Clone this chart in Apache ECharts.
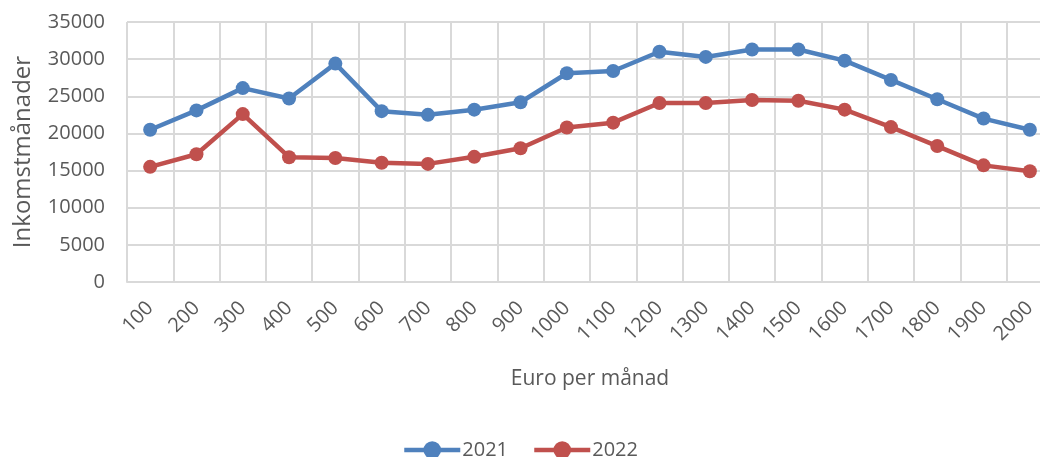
<!DOCTYPE html>
<html>
<head>
<meta charset="utf-8">
<script src="https://cdn.jsdelivr.net/npm/echarts@6/dist/echarts.min.js"></script>
<style>
  html, body { margin: 0; padding: 0; background: #fff; }
  #chart { width: 1040px; height: 457px; }
</style>
</head>
<body>
<div id="chart"></div>
<script>
// data
var categories = ['100','200','300','400','500','600','700','800','900','1000',
                  '1100','1200','1300','1400','1500','1600','1700','1800','1900','2000'];
var values2021 = [20500, 23100, 26100, 24700, 29400, 23000, 22500, 23200, 24200, 28100,
                  28400, 31000, 30300, 31300, 31300, 29800, 27200, 24600, 22000, 20500];
var values2022 = [15500, 17200, 22600, 16800, 16700, 16050, 15900, 16850, 18000, 20800,
                  21450, 24100, 24100, 24500, 24400, 23200, 20850, 18300, 15700, 14900];
var yTicks = [0, 5000, 10000, 15000, 20000, 25000, 30000, 35000];

var fontFam = '"Open Sans", "Liberation Sans", sans-serif';
var textColor = '#595959';
var gridColor = '#d9d9d9';

var chart = echarts.init(document.getElementById('chart'));

chart.setOption({
    animation: false,
    textStyle: { fontFamily: fontFam },
    // plot area runs a little past the right edge, as in the picture
    grid: { left: 127, top: 22, width: 926, height: 260, containLabel: false, outerBoundsMode: 'none' },
    legend: {
        top: 435,
        left: 'center',
        itemWidth: 56,
        itemHeight: 22,
        itemGap: 24,
        lineStyle: { width: 4.5 },
        textStyle: { color: textColor, fontSize: 20, fontFamily: fontFam, padding: [0, 0, 0, -3] },
        data: ['2021', '2022']
    },
    xAxis: {
        type: 'category',
        data: categories,
        boundaryGap: true,
        name: 'Euro per månad',
        nameLocation: 'middle',
        nameGap: 87,
        nameTextStyle: { color: textColor, fontSize: 21, fontFamily: fontFam },
        axisLine: { lineStyle: { color: gridColor, width: 2 } },
        axisTick: { show: false },
        splitLine: { show: true, interval: 0, lineStyle: { color: gridColor, width: 2 } },
        axisLabel: { interval: 0, rotate: 45, margin: 23, color: textColor, fontSize: 20, fontFamily: fontFam }
    },
    yAxis: {
        type: 'value',
        min: yTicks[0],
        max: yTicks[yTicks.length - 1],
        interval: 5000,
        name: 'Inkomstmånader',
        nameLocation: 'middle',
        nameGap: 92,
        nameTextStyle: { color: textColor, fontSize: 24, fontFamily: fontFam },
        axisLine: { show: false },
        axisTick: { show: false },
        splitLine: { lineStyle: { color: gridColor, width: 2 } },
        axisLabel: {
            margin: 22, color: textColor, fontSize: 20, fontFamily: fontFam,
            formatter: function (v) { return String(v); }
        }
    },
    series: [
        {
            name: '2021',
            type: 'line',
            data: values2021,
            symbol: 'circle',
            symbolSize: 14,
            color: '#4f81bd',
            lineStyle: { width: 4.5, color: '#4f81bd' },
            itemStyle: { color: '#4f81bd' }
        },
        {
            name: '2022',
            type: 'line',
            data: values2022,
            symbol: 'circle',
            symbolSize: 14,
            color: '#c0504d',
            lineStyle: { width: 4.5, color: '#c0504d' },
            itemStyle: { color: '#c0504d' }
        }
    ]
});
</script>
</body>
</html>
